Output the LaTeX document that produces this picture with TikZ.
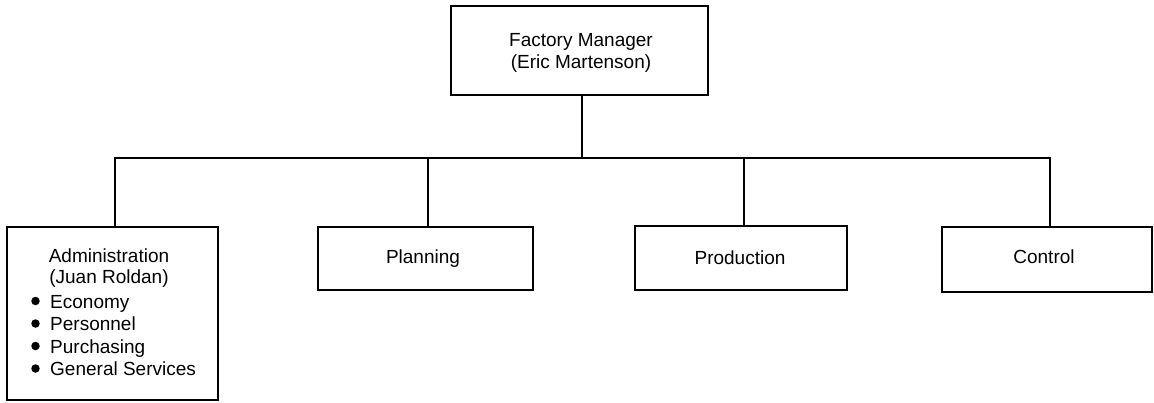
\documentclass[tikz,border=0pt]{standalone}
\usepackage{fontspec}
\setmainfont{Liberation Sans}
\begin{document}
\begin{tikzpicture}[x=1pt,y=-1pt,
  box/.style={draw, line width=1.5pt, inner sep=0pt, align=center},
  lbl/.style={inner sep=0pt, align=center, anchor=base, font=\fontsize{19}{21.5}\selectfont},
  item/.style={inner sep=0pt, anchor=base west, font=\fontsize{19}{22}\selectfont},
  dot/.style={circle, fill=black, inner sep=0pt, minimum size=8.5pt},
  link/.style={line width=1.5pt}]
\useasboundingbox (0,0) rectangle (1154,402);

% boxes
\node[box, minimum width=257pt, minimum height=89pt] (fm) at (579.5,50.5) {};
\node[box, minimum width=211pt, minimum height=173pt] (adm) at (112.5,313.5) {};
\node[box, minimum width=215pt, minimum height=63pt] (pln) at (425.5,258.5) {};
\node[box, minimum width=212pt, minimum height=64pt] (prd) at (741,258) {};
\node[box, minimum width=210pt, minimum height=65pt] (ctl) at (1047,259.5) {};

% labels
\node[lbl] (fmtext) at (581,68) {Factory Manager\\(Eric Martenson)};
\node[lbl] (plntext) at (423,263) {Planning};
\node[lbl] (prdtext) at (740,264) {Production};
\node[lbl] (ctltext) at (1044,263) {Control};
\node[lbl] (admhead) at (109,283.5) {Administration\\(Juan Roldan)};

% administration duties
\node[item] (i1) at (50,308) {Economy};
\node[item] (i2) at (50,330.5) {Personnel};
\node[item] (i3) at (50,353) {Purchasing};
\node[item] (i4) at (50,375.5) {General Services};
\node[dot] (b1) at (35.5,301) {};
\node[dot] (b2) at (35.5,323.5) {};
\node[dot] (b3) at (35.5,346) {};
\node[dot] (b4) at (35.5,368.5) {};

% connectors
\coordinate (hub) at (582,158);
\draw[link] ([xshift=2.5pt]fm.south) -- (hub);
\draw[link] ([xshift=2.5pt]adm.north) |- ([xshift=3pt]ctl.north |- hub) -- ([xshift=3pt]ctl.north);
\draw[link] ([xshift=2.5pt]pln.north) -- ([xshift=2.5pt]pln.north |- hub);
\draw[link] ([xshift=3pt]prd.north) -- ([xshift=3pt]prd.north |- hub);
\end{tikzpicture}
\end{document}
